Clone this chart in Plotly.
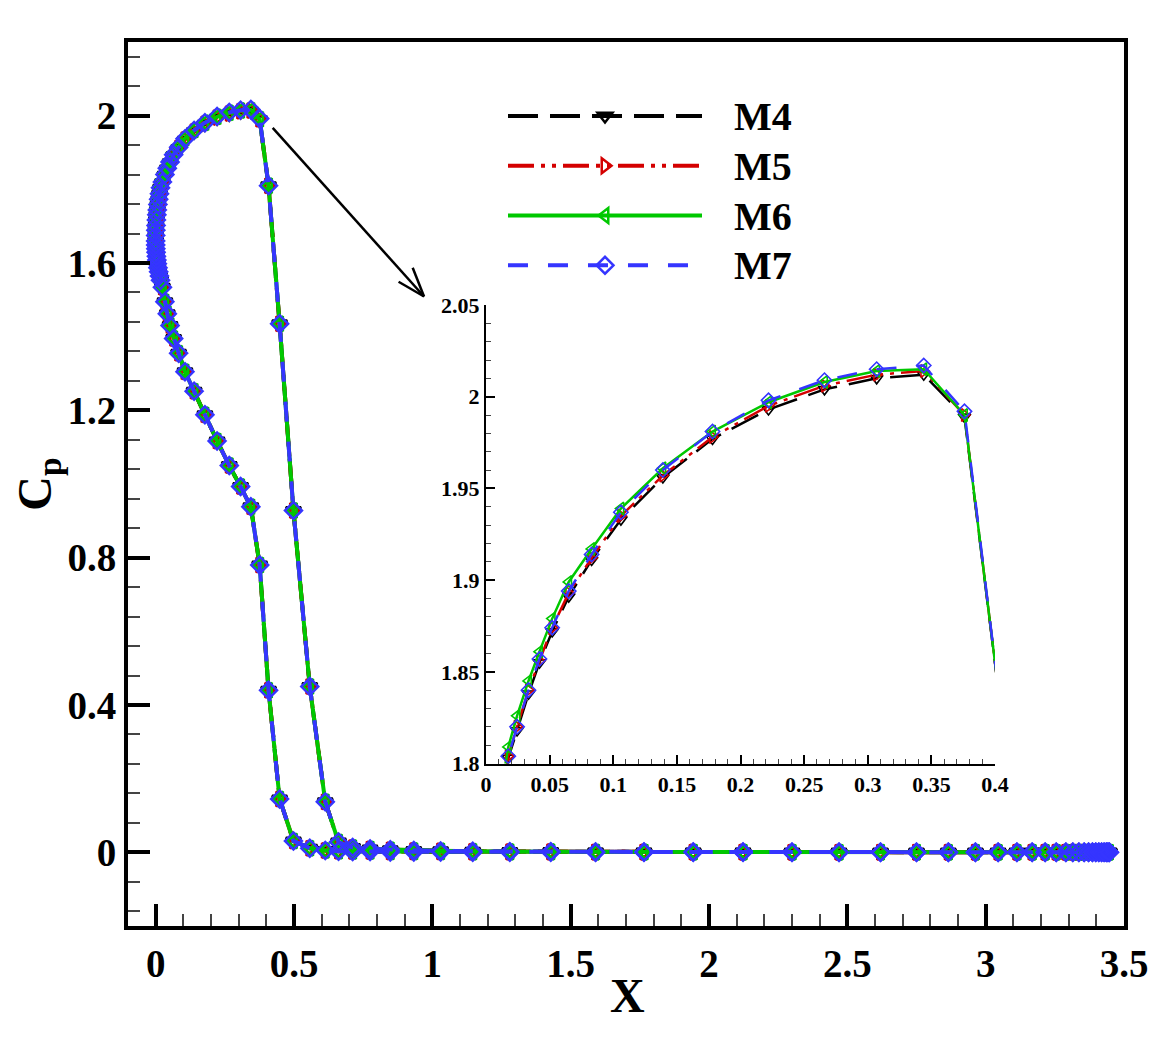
import plotly.graph_objects as go

# ---------------- data ----------------
series_names = ["M4", "M5", "M6", "M7"]

# surface stations from the stagnation point to x = 0.376 (shared by both surfaces)
x_front = [0.0, 0.0002, 0.0007, 0.0015, 0.0027, 0.0042, 0.006, 0.0082, 0.0108, 0.0138,
           0.0175, 0.0244, 0.0334, 0.042, 0.052, 0.065, 0.083, 0.106, 0.139, 0.178,
           0.222, 0.266, 0.307, 0.344, 0.376]

# upper-surface Cp on the front stations, per mesh
cp_upper_front_M4 = [1.660, 1.674, 1.688, 1.701, 1.716, 1.730, 1.743, 1.758, 1.772, 1.787,
                     1.803, 1.818, 1.838, 1.855, 1.872, 1.891, 1.911, 1.933, 1.956, 1.977,
                     1.993, 2.004, 2.010, 2.012, 1.989]
cp_upper_front_M5 = [1.660, 1.675, 1.689, 1.702, 1.717, 1.731, 1.744, 1.759, 1.773, 1.788,
                     1.804, 1.820, 1.840, 1.856, 1.874, 1.893, 1.912, 1.935, 1.957, 1.978,
                     1.995, 2.006, 2.012, 2.014, 1.990]
cp_upper_front_M6 = [1.660, 1.676, 1.691, 1.705, 1.721, 1.735, 1.749, 1.764, 1.778, 1.793,
                     1.809, 1.826, 1.845, 1.861, 1.879, 1.899, 1.917, 1.939, 1.961, 1.981,
                     1.997, 2.008, 2.014, 2.015, 1.990]
cp_upper_front_M7 = [1.660, 1.675, 1.689, 1.702, 1.717, 1.731, 1.744, 1.759, 1.773, 1.788,
                     1.804, 1.820, 1.840, 1.857, 1.874, 1.894, 1.914, 1.937, 1.960, 1.981,
                     1.998, 2.009, 2.015, 2.017, 1.992]

# lower-surface Cp on x_front[1:]
cp_lower_front = [1.649, 1.639, 1.629, 1.618, 1.608, 1.598, 1.587, 1.576, 1.565, 1.553,
                  1.534, 1.495, 1.462, 1.430, 1.395, 1.355, 1.305, 1.252, 1.188, 1.117,
                  1.050, 0.993, 0.938, 0.780]

# aft stations (shared by both surfaces)
x_aft = [0.408, 0.448, 0.498, 0.557, 0.613, 0.661, 0.712, 0.775, 0.848, 0.933,
         1.03, 1.146, 1.28, 1.428, 1.59, 1.765, 1.943, 2.123, 2.30, 2.47,
         2.62, 2.75, 2.865, 2.963, 3.045, 3.113, 3.168, 3.215, 3.255, 3.29,
         3.315, 3.337, 3.356, 3.372, 3.386, 3.398, 3.409, 3.419, 3.428, 3.436,
         3.442, 3.447]
cp_upper_aft = [1.810, 1.435, 0.928, 0.450, 0.137, 0.028, 0.013, 0.009, 0.007, 0.005,
                0.004, 0.003, 0.002, 0.002, 0.001, 0.001, 0.001, 0.001, 0.0, 0.0,
                0.0, 0.0, 0.0, 0.0, 0.0, 0.0, 0.0, 0.0, 0.0, 0.0,
                0.0, 0.0, 0.0, 0.0, 0.0, 0.0, 0.0, 0.0, 0.0, 0.0,
                0.0, 0.0]
cp_lower_aft = [0.440, 0.145, 0.031, 0.011, 0.005, 0.003, 0.002, 0.002, 0.001, 0.001,
                0.001, 0.0, 0.0, 0.0, 0.0, 0.0, 0.0, 0.0, 0.0, 0.0,
                0.0, 0.0, 0.0, 0.0, 0.0, 0.0, 0.0, 0.0, 0.0, 0.0,
                0.0, 0.0, 0.0, 0.0, 0.0, 0.0, 0.0, 0.0, 0.0, 0.0,
                0.0, 0.0]

main_xticks = [0, 0.5, 1, 1.5, 2, 2.5, 3, 3.5]
main_yticks = [0, 0.4, 0.8, 1.2, 1.6, 2]

# ---------------- styles ----------------
colors = ["#000000", "#d40000", "#00c800", "#3535ff"]
dashes = ["30px,12px", "26px,7px,4px,7px,4px,7px", "solid", "20px,20px"]
symbols = ["triangle-down-open", "triangle-right-open", "triangle-left-open", "diamond-open"]
upper_fronts = [cp_upper_front_M4, cp_upper_front_M5, cp_upper_front_M6, cp_upper_front_M7]

FONT = "Liberation Serif"

fig = go.Figure()

for name, col, dash, sym, cpu in zip(series_names, colors, dashes, symbols, upper_fronts):
    x_lower = x_front[1:] + x_aft
    y_lower = cp_lower_front + cp_lower_aft
    xs = list(reversed(x_lower)) + x_front + x_aft
    ys = list(reversed(y_lower)) + cpu + cp_upper_aft
    label = "\u00a0\u00a0\u00a0<span style='font-size:40px'>" + name + "</span>"
    fig.add_trace(go.Scatter(
        x=xs, y=ys, name=label, mode="lines+markers",
        line=dict(color=col, width=4, dash=dash),
        marker=dict(symbol=sym, size=13, color=col, line=dict(color=col, width=2.5)),
        xaxis="x", yaxis="y", showlegend=True))
    fig.add_trace(go.Scatter(
        x=xs, y=ys, name=name, mode="lines+markers",
        line=dict(color=col, width=2.5, dash=dash),
        marker=dict(symbol=sym, size=11, color=col, line=dict(color=col, width=1.6)),
        xaxis="x2", yaxis="y2", showlegend=False))

# page geometry: the page body has an 8px margin around the figure
OFF = 8
W, H = 1171 - 2 * OFF, 1041 - 2 * OFF
PL, PR, PT, PB = 128, 1124, 42, 926          # plot box on the page (px)
L, R, T, B = PL - OFF, W - (PR - OFF), PT - OFF, H - (PB - OFF)
pw, ph = W - L - R, H - T - B

def px2paper_x(px):
    return (px - OFF - L) / pw

def px2paper_y(py):
    return (H - B - (py - OFF)) / ph

tick_font = dict(family=FONT, size=39, color="black", weight="bold")
inset_font = dict(family=FONT, size=22, color="black", weight="bold")
title_font = dict(family=FONT, size=48, color="black", weight="bold")

fig.update_layout(
    width=W, height=H,
    margin=dict(l=L, r=R, t=T, b=B),
    paper_bgcolor="white", plot_bgcolor="white",
    font=dict(family=FONT, color="black", weight="bold"),
    xaxis=dict(range=[-0.1, 3.5], tickvals=main_xticks, showline=True, linecolor="black",
               linewidth=4, mirror=True, ticks="inside", ticklen=22, tickwidth=4,
               tickcolor="black", showgrid=False, zeroline=False, tickfont=tick_font,
               minor=dict(dtick=0.1, tick0=0, ticks="inside", ticklen=12, tickwidth=1.5,
                          tickcolor="#444444", showgrid=False),
               ticklabelstandoff=0),
    yaxis=dict(range=[-0.2, 2.2], tickvals=main_yticks, showline=True, linecolor="black",
               linewidth=4, mirror=True, ticks="inside", ticklen=22, tickwidth=4,
               tickcolor="black", showgrid=False, zeroline=False, tickfont=tick_font,
               minor=dict(dtick=0.08, tick0=0, ticks="inside", ticklen=12, tickwidth=1.5,
                          tickcolor="#444444", showgrid=False),
               ticklabelstandoff=0,
               title=dict(text="C<sub>p</sub>", font=title_font, standoff=14)),
    xaxis2=dict(domain=[px2paper_x(486), px2paper_x(995)], anchor="y2", range=[0, 0.4],
                dtick=0.05, tick0=0, showline=True, linecolor="black", linewidth=2,
                ticks="inside", ticklen=9, tickwidth=2, tickcolor="black",
                showgrid=False, zeroline=False, tickfont=inset_font,
                minor=dict(dtick=0.01, ticks="inside", ticklen=5, tickwidth=1,
                           tickcolor="#444444", showgrid=False)),
    yaxis2=dict(domain=[px2paper_y(763.5), px2paper_y(305)], anchor="x2", range=[1.8, 2.05],
                dtick=0.05, tick0=1.8, showline=True, linecolor="black", linewidth=2,
                ticks="inside", ticklen=9, tickwidth=2, tickcolor="black",
                showgrid=False, zeroline=False, tickfont=inset_font,
                minor=dict(dtick=0.01, ticks="inside", ticklen=5, tickwidth=1,
                           tickcolor="#444444", showgrid=False)),
    legend=dict(x=px2paper_x(503), y=px2paper_y(86), xanchor="left", yanchor="top",
                bgcolor="rgba(0,0,0,0)", borderwidth=0,
                font=dict(family=FONT, size=36, color="black", weight="bold"),
                itemwidth=194, tracegroupgap=0),
    showlegend=True,
)

# x-axis title
fig.add_annotation(xref="paper", yref="paper", x=px2paper_x(627), y=px2paper_y(995),
                   text="X", showarrow=False, xanchor="center", yanchor="middle",
                   font=title_font)

# pointer arrow (shaft + open head), in main-axes data units
arrow_start = (0.423, 1.967)
arrow_tip = (0.970, 1.509)
arrow_arms = [(0.878, 1.549), (0.929, 1.587)]
fig.add_shape(type="line", xref="x", yref="y", x0=arrow_start[0], y0=arrow_start[1],
              x1=arrow_tip[0], y1=arrow_tip[1], line=dict(color="black", width=2.5))
for ax_, ay_ in arrow_arms:
    fig.add_shape(type="line", xref="x", yref="y", x0=arrow_tip[0], y0=arrow_tip[1],
                  x1=ax_, y1=ay_, line=dict(color="black", width=2.5))

fig.write_html("out.html")
